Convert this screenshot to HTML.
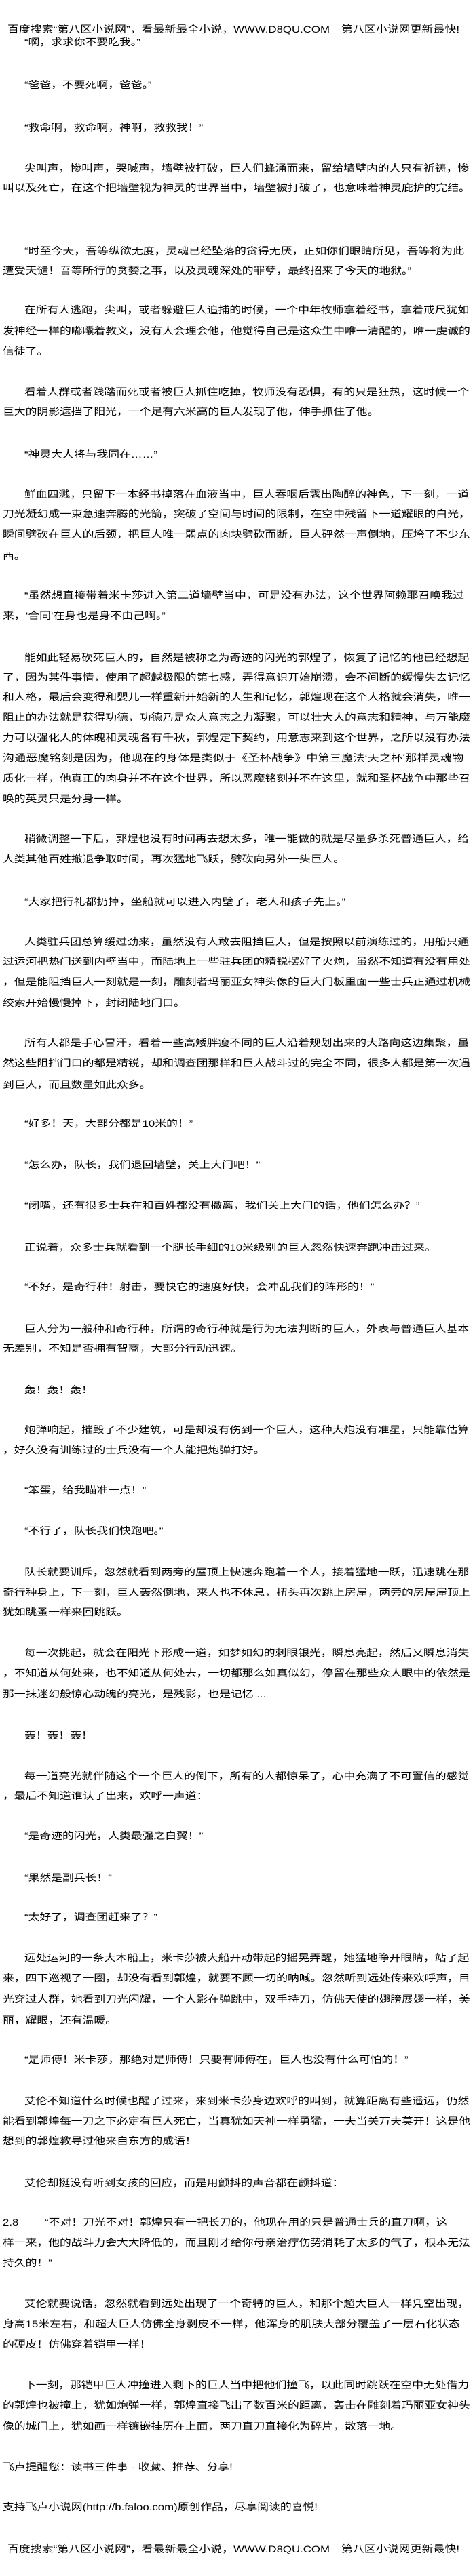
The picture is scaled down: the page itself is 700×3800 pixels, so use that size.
<!DOCTYPE html>
<html><head><meta charset="utf-8">
<style>
html,body{margin:0;padding:0;background:#fff;}
body{width:700px;height:3800px;position:relative;overflow:hidden;}
.l{position:absolute;height:20px;line-height:20px;font-size:14px;color:#000;white-space:nowrap;
font-family:"Liberation Sans","Noto Sans CJK SC","WenQuanYi Zen Hei",sans-serif;transform:scaleX(1.2);transform-origin:0 0;}
.f{text-align:justify;text-align-last:justify;}
.a{left:36px;} .b{left:4px;}
.a.f{width:540px;} .b.f{width:566px;}
.h{left:11px;width:555px;}
</style></head><body>
<div class="l f h" style="top:33px">百度搜索“第八区小说网”，看最新最全小说，WWW.D8QU.COM　第八区小说网更新最快!</div>
<div class="l a" style="top:52px">“啊，求求你不要吃我。”</div>
<div class="l a" style="top:115px">“爸爸，不要死啊，爸爸。”</div>
<div class="l a" style="top:178px">“救命啊，救命啊，神啊，救救我！”</div>
<div class="l a f" style="top:238px">尖叫声，惨叫声，哭喊声，墙壁被打破，巨人们蜂涌而来，留给墙壁内的人只有祈祷，惨</div>
<div class="l b" style="top:267px">叫以及死亡，在这个把墙壁视为神灵的世界当中，墙壁被打破了，也意味着神灵庇护的完结。</div>
<div class="l a f" style="top:360px">“时至今天，吾等纵欲无度，灵魂已经坠落的贪得无厌，正如你们眼睛所见，吾等将为此</div>
<div class="l b" style="top:389px">遭受天谴！吾等所行的贪婪之事，以及灵魂深处的罪孽，最终招来了今天的地狱。”</div>
<div class="l a f" style="top:447px">在所有人逃跑，尖叫，或者躲避巨人追捕的时候，一个中年牧师拿着经书，拿着戒尺犹如</div>
<div class="l b f" style="top:478px">发神经一样的嘟囔着教义，没有人会理会他，他觉得自己是这众生中唯一清醒的，唯一虔诚的</div>
<div class="l b" style="top:508px">信徒了。</div>
<div class="l a f" style="top:568px">看着人群或者践踏而死或者被巨人抓住吃掉，牧师没有恐惧，有的只是狂热，这时候一个</div>
<div class="l b" style="top:597px">巨大的阴影遮挡了阳光，一个足有六米高的巨人发现了他，伸手抓住了他。</div>
<div class="l a" style="top:660px">“神灵大人将与我同在……”</div>
<div class="l a f" style="top:719px">鲜血四溅，只留下一本经书掉落在血液当中，巨人吞咽后露出陶醉的神色，下一刻，一道</div>
<div class="l b f" style="top:748px">刀光凝幻成一束急速奔腾的光箭，突破了空间与时间的限制，在空中残留下一道耀眼的白光，</div>
<div class="l b f" style="top:778px">瞬间劈砍在巨人的后颈，把巨人唯一弱点的肉块劈砍而断，巨人砰然一声倒地，压垮了不少东</div>
<div class="l b" style="top:810px">西。</div>
<div class="l a f" style="top:868px">“虽然想直接带着米卡莎进入第二道墙壁当中，可是没有办法，这个世界阿赖耶召唤我过</div>
<div class="l b" style="top:898px">来，‘合同’在身也是身不由己啊。”</div>
<div class="l a f" style="top:960px">能如此轻易砍死巨人的，自然是被称之为奇迹的闪光的郭煌了，恢复了记忆的他已经想起</div>
<div class="l b f" style="top:989px">了，因为某件事情，使用了超越极限的第七感，弄得意识开始崩溃，会不间断的缓慢失去记忆</div>
<div class="l b f" style="top:1018px">和人格，最后会变得和婴儿一样重新开始新的人生和记忆，郭煌现在这个人格就会消失，唯一</div>
<div class="l b f" style="top:1048px">阻止的办法就是获得功德，功德乃是众人意志之力凝聚，可以壮大人的意志和精神，与万能魔</div>
<div class="l b f" style="top:1078px">力可以强化人的体魄和灵魂各有千秋，郭煌定下契约，用意志来到这个世界，之所以没有办法</div>
<div class="l b f" style="top:1108px">沟通恶魔铭刻是因为，他现在的身体是类似于《圣杯战争》中第三魔法‘天之杯’那样灵魂物</div>
<div class="l b f" style="top:1138px">质化一样，他真正的肉身并不在这个世界，所以恶魔铭刻并不在这里，就和圣杯战争中那些召</div>
<div class="l b" style="top:1168px">唤的英灵只是分身一样。</div>
<div class="l a f" style="top:1227px">稍微调整一下后，郭煌也没有时间再去想太多，唯一能做的就是尽量多杀死普通巨人，给</div>
<div class="l b" style="top:1257px">人类其他百姓撤退争取时间，再次猛地飞跃，劈砍向另外一头巨人。</div>
<div class="l a" style="top:1320px">“大家把行礼都扔掉，坐船就可以进入内壁了，老人和孩子先上。”</div>
<div class="l a f" style="top:1379px">人类驻兵团总算缓过劲来，虽然没有人敢去阻挡巨人，但是按照以前演练过的，用船只通</div>
<div class="l b f" style="top:1408px">过运河把热门送到内壁当中，而陆地上一些驻兵团的精锐摆好了火炮，虽然不知道有没有用处</div>
<div class="l b f" style="top:1438px">，但是能阻挡巨人一刻就是一刻，雕刻者玛丽亚女神头像的巨大门板里面一些士兵正通过机械</div>
<div class="l b" style="top:1469px">绞索开始慢慢掉下，封闭陆地门口。</div>
<div class="l a f" style="top:1528px">所有人都是手心冒汗，看着一些高矮胖瘦不同的巨人沿着规划出来的大路向这边集聚，虽</div>
<div class="l b f" style="top:1558px">然这些阻挡门口的都是精锐，却和调查团那样和巨人战斗过的完全不同，很多人都是第一次遇</div>
<div class="l b" style="top:1590px">到巨人，而且数量如此众多。</div>
<div class="l a" style="top:1647px">“好多！天，大部分都是10米的！”</div>
<div class="l a" style="top:1708px">“怎么办，队长，我们退回墙壁，关上大门吧！”</div>
<div class="l a" style="top:1768px">“闭嘴，还有很多士兵在和百姓都没有撤离，我们关上大门的话，他们怎么办？”</div>
<div class="l a" style="top:1830px">正说着，众多士兵就看到一个腿长手细的10米级别的巨人忽然快速奔跑冲击过来。</div>
<div class="l a" style="top:1888px">“不好，是奇行种！射击，要快它的速度好快，会冲乱我们的阵形的！”</div>
<div class="l a f" style="top:1950px">巨人分为一般种和奇行种，所谓的奇行种就是行为无法判断的巨人，外表与普通巨人基本</div>
<div class="l b" style="top:1979px">无差别，不知是否拥有智商，大部分行动迅速。</div>
<div class="l a" style="top:2040px">轰！轰！轰！</div>
<div class="l a f" style="top:2099px">炮弹响起，摧毁了不少建筑，可是却没有伤到一个巨人，这种大炮没有准星，只能靠估算</div>
<div class="l b" style="top:2129px">，好久没有训练过的士兵没有一个人能把炮弹打好。</div>
<div class="l a" style="top:2188px">“笨蛋，给我瞄准一点！”</div>
<div class="l a" style="top:2248px">“不行了，队长我们快跑吧。”</div>
<div class="l a f" style="top:2309px">队长就要训斥，忽然就看到两旁的屋顶上快速奔跑着一个人，接着猛地一跃，迅速跳在那</div>
<div class="l b f" style="top:2339px">奇行种身上，下一刻，巨人轰然倒地，来人也不休息，扭头再次跳上房屋，两旁的房屋屋顶上</div>
<div class="l b" style="top:2368px">犹如跳蚤一样来回跳跃。</div>
<div class="l a f" style="top:2428px">每一次挑起，就会在阳光下形成一道，如梦如幻的刺眼银光，瞬息亮起，然后又瞬息消失</div>
<div class="l b f" style="top:2458px">，不知道从何处来，也不知道从何处去，一切都那么如真似幻，停留在那些众人眼中的依然是</div>
<div class="l b" style="top:2489px">那一抹迷幻般惊心动魄的亮光，是残影，也是记忆 ...</div>
<div class="l a" style="top:2550px">轰！轰！轰！</div>
<div class="l a f" style="top:2610px">每一道亮光就伴随这个一个巨人的倒下，所有的人都惊呆了，心中充满了不可置信的感觉</div>
<div class="l b" style="top:2639px">，最后不知道谁认了出来，欢呼一声道：</div>
<div class="l a" style="top:2698px">“是奇迹的闪光，人类最强之白翼！”</div>
<div class="l a" style="top:2760px">“果然是副兵长！”</div>
<div class="l a" style="top:2818px">“太好了，调查团赶来了？”</div>
<div class="l a f" style="top:2878px">远处运河的一条大木船上，米卡莎被大船开动带起的摇晃弄醒，她猛地睁开眼睛，站了起</div>
<div class="l b f" style="top:2908px">来，四下巡视了一圈，却没有看到郭煌，就要不顾一切的呐喊。忽然听到远处传来欢呼声，目</div>
<div class="l b f" style="top:2939px">光穿过人群，她看到刀光闪耀，一个人影在弹跳中，双手持刀，仿佛天使的翅膀展翅一样，美</div>
<div class="l b" style="top:2970px">丽，耀眼，还有温暖。</div>
<div class="l a" style="top:3028px">“是师傅！米卡莎，那绝对是师傅！只要有师傅在，巨人也没有什么可怕的！”</div>
<div class="l a f" style="top:3089px">艾伦不知道什么时候也醒了过来，来到米卡莎身边欢呼的叫到，就算距离有些遥远，仍然</div>
<div class="l b f" style="top:3119px">能看到郭煌每一刀之下必定有巨人死亡，当真犹如天神一样勇猛，一夫当关万夫莫开！这是他</div>
<div class="l b" style="top:3148px">想到的郭煌教导过他来自东方的成语！</div>
<div class="l a" style="top:3210px">艾伦却挺没有听到女孩的回应，而是用颤抖的声音都在颤抖道：</div>
<div class="l b" style="top:3268px">2.8</div>
<div class="l f" style="top:3268px;left:66px;width:494px">“不对！刀光不对！郭煌只有一把长刀的，他现在用的只是普通士兵的直刀啊，这</div>
<div class="l b f" style="top:3298px">样一来，他的战斗力会大大降低的，而且刚才给你母亲治疗伤势消耗了太多的气了，根本无法</div>
<div class="l b" style="top:3328px">持久的！”</div>
<div class="l a f" style="top:3388px;width:534px">艾伦就要说话，忽然就看到远处出现了一个奇特的巨人，和那个超大巨人一样凭空出现，</div>
<div class="l b f" style="top:3418px;width:553px">身高15米左右，和超大巨人仿佛全身剥皮不一样，他浑身的肌肤大部分覆盖了一层石化状态</div>
<div class="l b" style="top:3448px">的硬皮！仿佛穿着铠甲一样！</div>
<div class="l a f" style="top:3508px">下一刻，那铠甲巨人冲撞进入剩下的巨人当中把他们撞飞，以此同时跳跃在空中无处借力</div>
<div class="l b f" style="top:3538px">的郭煌也被撞上，犹如炮弹一样，郭煌直接飞出了数百米的距离，轰击在雕刻着玛丽亚女神头</div>
<div class="l b" style="top:3569px">像的城门上，犹如画一样镶嵌挂历在上面，两刀直刀直接化为碎片，散落一地。</div>
<div class="l b" style="top:3629px">飞卢提醒您：读书三件事 - 收藏、推荐、分享!</div>
<div class="l b" style="top:3688px">支持飞卢小说网(http://b.faloo.com)原创作品，尽享阅读的喜悦!</div>
<div class="l f h" style="top:3750px">百度搜索“第八区小说网”，看最新最全小说，WWW.D8QU.COM　第八区小说网更新最快!</div>
</body></html>
